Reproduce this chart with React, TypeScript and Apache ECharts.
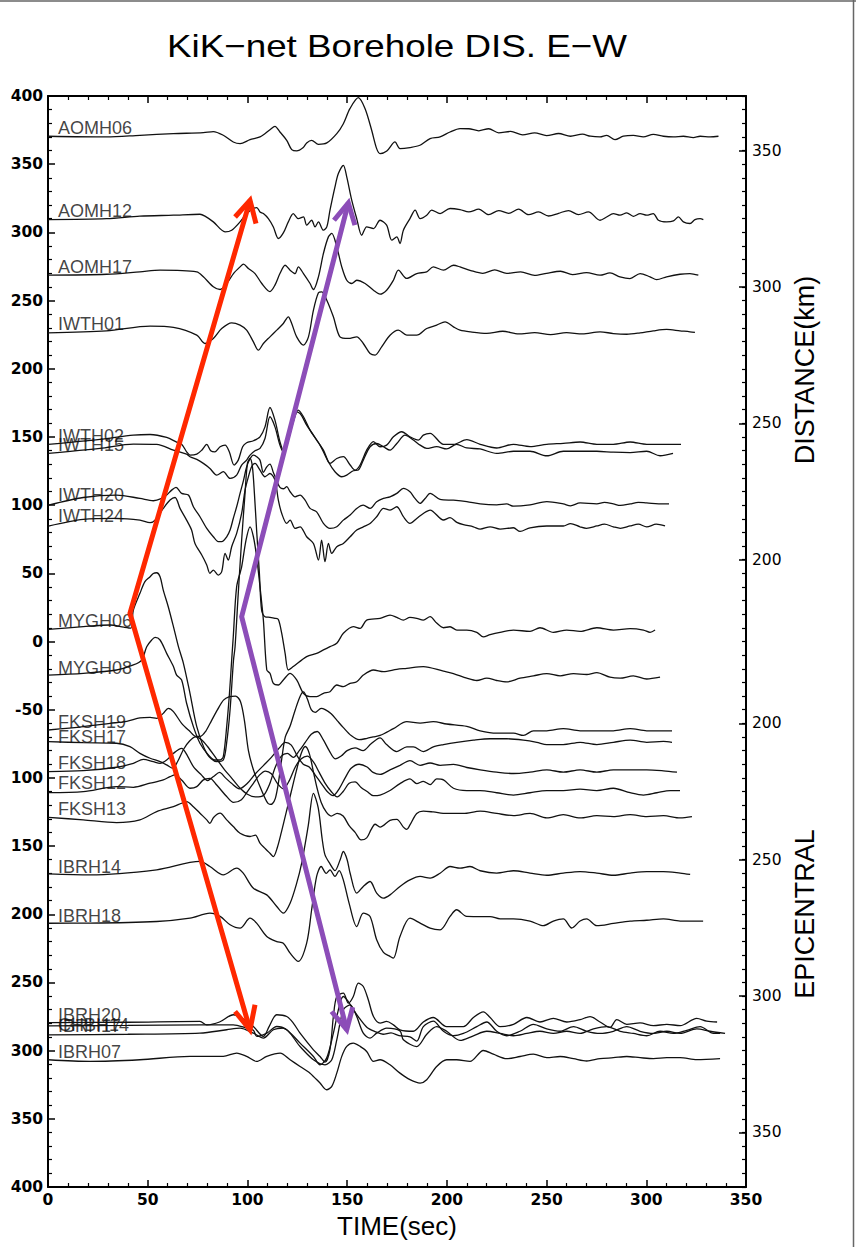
import React, { useEffect, useRef } from "react";
import * as echarts from "echarts";

// ---------- station labels ----------
const STATIONS = ["AOMH06","AOMH12","AOMH17","IWTH01","IWTH02","IWTH15","IWTH20","IWTH24","MYGH06","MYGH08","FKSH19","FKSH17","FKSH18","FKSH12","FKSH13","IBRH14","IBRH18","IBRH20","CHBH14","IBRH17","IBRH07"];
const LABEL_V = [376.3,315.5,274.5,232.8,150.6,144.0,107.3,91.9,14.9,-19.4,-59.0,-70.0,-89.3,-103.5,-123.0,-165.3,-201.0,-273.8,-281.1,-281.9,-300.9];
const LABEL_T = 5;

// ---------- traces: [time (s), offset value] ----------
const AOMH06 = [[0,370.5],[29.4,370],[46.1,371.2],[62.9,372.4],[77.9,373.1],[82.9,373.9],[87.9,371.2],[92.9,366.3],[96.3,365.1],[101.3,368],[106.3,370],[111.3,375.3],[113.8,377.8],[116.3,373.6],[119.7,367.5],[122.2,360.7],[124.7,359.7],[128,362.2],[129.7,365.6],[132.2,367.5],[135.6,364.6],[139.8,365.6],[144.8,372.4],[148.1,379.7],[151.4,390.7],[155.6,398.8],[159,390.7],[162.3,374.9],[164.8,361.4],[166.5,357.8],[169.9,359.7],[174,366.3],[176.5,361.4],[181.5,362.2],[186.5,363.9],[191.6,368.8],[196.6,370],[201.6,373.6],[206.6,376.1],[211,376],[216,374.5],[221,376],[226,373],[232,374],[238,371.5],[244,373],[250,371],[256,372.5],[262,370.5],[268,372],[272,370.5],[276.8,370],[280.1,371.2],[284.3,368],[288.5,370.5],[293.5,371.2],[298.5,370],[303.5,371.9],[308.6,370.5],[313.6,370],[318.6,370.5],[323.6,369.5],[327,370.5],[332,370],[336.2,370.5]];
const AOMH12 = [[0,309.4],[29.4,310.1],[46.1,311.9],[62.9,312.6],[76.2,313.3],[78.7,311.9],[82.9,307.7],[88.8,300.4],[92.1,301.6],[96.3,307.7],[99.6,313.8],[103,317.5],[104.7,318.2],[106.3,315],[108,313.8],[110.5,310.1],[113,304],[115.5,295.5],[118,299.6],[120.5,307.7],[123,313.8],[125.5,310.1],[128.1,311.4],[129.7,305.3],[132.2,308.9],[133.9,304],[135.6,307.7],[138.1,301.6],[139.8,304],[141.4,316.3],[143.9,333.4],[145.6,343.1],[148.1,349.2],[149.8,340.7],[152.3,323.6],[154.8,310.1],[157.3,297.9],[159.8,304],[163.2,302.8],[166.5,308.9],[169.8,305.3],[172.4,294.3],[174.9,296.7],[176.5,291.8],[178.2,301.6],[181.5,310.1],[184.1,316.3],[186.6,310.1],[189.9,312.6],[192.4,316.3],[196.6,313.8],[201.6,317.5],[206.6,316.7],[211,315],[216,317],[221,313],[226,316],[231,314],[236,317],[241,313],[246,315],[251,312],[256,314],[261,316],[266,313],[271,315],[276.8,308.9],[280.1,311.3],[283.5,313.8],[286.8,312.6],[290.2,314.3],[293.5,311.8],[296.9,313.8],[300.2,312.6],[303.5,313.8],[306.1,308.9],[310.2,307.7],[313.6,308.4],[316.1,311.3],[318.6,307.7],[321.9,306.5],[324.4,309.4],[327,310.1],[328.6,309.4]];
const AOMH17 = [[0,268.6],[29.4,269.3],[46.1,271.1],[56.2,272.3],[74.6,271.1],[77.9,267.4],[82.9,260.1],[86.3,258.1],[89.6,262.5],[93,269.8],[96.3,274.7],[98,276.7],[100.5,273.5],[103.8,269.8],[107.2,262.5],[111.3,256.6],[113.8,261.3],[116.3,269.8],[118.9,275.9],[121.4,272.3],[123.9,269.8],[125.5,274.7],[128.1,269.8],[131.4,262.5],[133.1,258.1],[135.6,267.4],[138.1,284.5],[140.6,296.7],[142.3,299.2],[144.8,289.4],[147.3,274.7],[149.8,264.9],[152.3,262.5],[154.8,264.9],[159,262.5],[163.2,257.6],[166.5,254.7],[169.8,257.6],[173.2,264.9],[175.7,272.3],[179.9,266.2],[184.9,269.8],[189.9,271.1],[193.2,274.7],[198.3,272.3],[203.3,275.9],[206.6,274.7],[212,272],[218,270],[224,272.5],[230,270],[237,271],[244,268.5],[250,270],[257,271.5],[263,269],[270,270.5],[276.8,268.6],[281.8,270.3],[286.8,267.4],[291.8,266.1],[296.9,269.8],[301.9,267.4],[305.2,265.4],[310.2,267.4],[316.9,269.3],[321.9,269.8],[326.1,268.6]];
const IWTH01 = [[0,226.3],[29.4,227.8],[51.2,231.2],[62.9,230.3],[74.6,224.6],[78.7,218.5],[82.9,222.2],[87.1,229.5],[92.1,233.7],[96.3,232],[99.6,228.3],[103,219.7],[105.5,213.6],[108,218.5],[111.3,223.4],[114.7,228.3],[118,233.2],[120.5,238.1],[122.2,233.2],[124.7,223.4],[128.1,217.3],[130.6,223.4],[133.1,243],[135.6,255.7],[137.3,256.4],[139.8,250.3],[143.1,238.1],[146.4,223.4],[150.6,222.2],[154.8,223.4],[158.1,218.5],[161.5,211.2],[164,210],[167.3,216.1],[171.5,224.6],[175.7,228.3],[179.9,224.6],[184.9,224.6],[189.9,229.5],[194.9,232],[199.1,234.4],[203.3,230.7],[206.6,228.3],[212,227],[220,226],[228,227.5],[236,225.5],[244,226.5],[252,225],[260,226.5],[268,225.5],[276.8,227.1],[283.5,225.8],[290.2,225.3],[296.9,226.3],[303.5,227.8],[310.2,228.8],[316.9,227.8],[321.9,227.1],[324.4,226.6]];
const IWTH02 = [[0.2,144.5],[26.1,148.2],[42.8,151.3],[51.2,151.8],[59.5,149.6],[64.5,146.2],[67,144.7],[69.5,139.1],[71.2,136.7],[74.6,137.4],[77.1,140.3],[79.6,144.5],[81.6,139.9],[83.7,139.1],[86.3,142.8],[88.8,144],[90.9,139.1],[93.3,129.4],[95.4,133],[97.6,142.8],[99.6,145.7],[103,147.2],[106.3,150.1],[108.8,157.4],[111.3,171.6],[113.8,162.3],[116.3,146.5],[118,140.3],[119.7,145.2],[122.2,159.9],[123.9,168.4],[126.4,167.2],[129.7,158.7],[133.1,151.3],[136.4,144],[138.9,136.7],[141.4,130.6],[144.8,134.2],[148.1,135.5],[151.5,129.4],[154,125.7],[156.5,129.4],[159.8,140.3],[163.2,146.5],[166.5,142.8],[169.8,144],[173.2,150.1],[177.4,153.8],[181.5,150.1],[185.7,147.7],[188.2,151.3],[191.6,152.6],[198.3,144.6],[203.3,144.6],[210,148],[216.7,144.6],[225,141.9],[233.4,144.6],[241.7,142.9],[250.1,144.6],[258.4,145.3],[266.8,146.3],[275.2,144.6],[283.5,144.6],[291.9,146.3],[300.2,144.6],[308.6,144.6],[317.4,144.6]];
const IWTH15 = [[0.2,137.9],[26.1,141.6],[42.8,144.7],[54.5,144.5],[62.9,140.3],[69.5,137.4],[71.2,135.5],[74.6,133.5],[77.9,130.6],[81.2,126.9],[84.6,122],[87.9,124.5],[91.3,119.6],[94.6,122],[97.1,129.4],[99.6,133],[101.3,136.7],[103.8,139.9],[106.3,141.6],[108.8,148.9],[111.3,164.8],[113.8,157.4],[116.3,144],[118,139.1],[120.5,147.7],[123,161.1],[125.5,169.7],[128.1,164.8],[131.4,155],[134.7,147.7],[138.1,140.3],[140.6,131.8],[143.9,124.5],[147.3,120.8],[149.8,122],[153.1,125.2],[155.6,125.7],[158.1,133],[161.5,142.8],[164.8,145.2],[168.2,142.8],[171.5,140.3],[174.9,145.2],[179,151.3],[183.2,147.7],[186.6,144],[189.9,141.6],[194.9,142.9],[199.9,141.2],[204.9,144.6],[210,141.9],[216.7,141.2],[225,137.9],[233.4,139.5],[241.7,139.5],[250.1,136.2],[258.4,139.5],[266.8,139.5],[275.2,139.5],[283.5,138.8],[291.9,138.5],[300.2,139.5],[306.9,136.2],[313.4,137.9]];
const IWTH20 = [[0.2,100],[17.7,105.6],[34.4,107.4],[46.1,104.9],[52.8,103.2],[57,104.9],[59.5,107.4],[62,111],[64.2,113],[67,108.6],[70.4,107.4],[72.9,98.8],[76.2,91.5],[79.6,82.9],[82.9,76.8],[85.4,73.2],[87.1,73.2],[89.6,76.8],[91.3,81.7],[92.9,90.2],[94.6,98.8],[96.3,108.6],[98,118],[99.6,128],[101.3,134],[103,136.7],[104.6,135.5],[106.3,133],[108,124],[109.7,128],[111.3,130],[113,124],[114.7,118],[116.3,113],[118,112],[119.7,113.5],[121.4,109.8],[123.9,106.1],[126.4,107.4],[128.9,103.7],[131.4,97.6],[134.7,95.1],[138.1,86.6],[141.4,82.9],[144.8,84.1],[148.1,89],[151.5,92.7],[154.8,97.6],[158.1,100],[161.5,97.6],[164.8,102.5],[168.2,104.9],[171.5,106.1],[174.9,108.6],[178.2,112.3],[181.5,109.8],[184,104.9],[186.6,101.3],[189.1,104.9],[191.6,108.6],[196.6,104.2],[203.3,103.6],[210,102.6],[216.7,100.9],[225,100.2],[230,100.9],[233.4,99.2],[241.7,100.2],[250.1,102.6],[258.4,100.9],[262,99.5],[266.8,101.6],[275.2,100.9],[279,102],[283.5,100.9],[287,99.8],[291.9,100.9],[296,102],[300.2,101.6],[308.6,100.9],[311.4,100.9]];
const IWTH24 = [[0.2,84.6],[17.7,89.5],[34.4,90.3],[46.1,89],[51.2,87.1],[53.7,89],[57.8,97.6],[61.2,103.7],[63.7,105.6],[66.2,97.6],[69.5,89],[72,81.7],[73.7,71.9],[77.1,63.4],[79.6,56.1],[81.2,50],[82.9,52.4],[85.4,48.7],[87.1,51.2],[88.8,64.6],[90.4,59.7],[92.1,69.5],[94.6,79.3],[97.1,93.9],[98.8,111],[100.5,120.8],[102.1,128.1],[103.8,130.6],[106.3,125.7],[108.8,120.8],[111.3,123.2],[113.8,118.4],[115.5,103.7],[117.2,93.9],[119.7,86.6],[121.4,89],[123.9,82.9],[126.4,84.1],[129.7,76.8],[133.1,71.9],[135.6,59.7],[137.2,74.4],[138.9,58.5],[140.6,71.9],[142.3,64.6],[144.8,69.5],[148.1,71.9],[151.5,76.8],[154.8,81.7],[158.1,84.1],[161.5,86.6],[164.8,91.5],[168.2,97.6],[171.5,96.4],[174.9,98.8],[178.2,91.5],[181.5,86.6],[184.9,90.2],[188.2,93.9],[191.6,96.4],[198.3,89.1],[201.6,90.8],[205,87.4],[208.3,85.7],[213.3,84.1],[216.7,82.4],[221.7,84.1],[226.7,82.4],[233.4,83.4],[236.7,80.7],[241.7,83.4],[250.1,84.7],[258.4,84.7],[262,86.5],[266.8,84.1],[270,83],[275.2,84.7],[279,86],[283.5,84.1],[287,83],[291.9,84.7],[296,86],[300.2,84.1],[305,86],[309.4,84.7]];
const MYGH06 = [[0.2,8.9],[17.7,10.9],[31.1,12.1],[38,10.5],[41.5,9.8],[42.8,23.1],[46.1,35.3],[48.6,43.9],[51.2,47.5],[52.8,49.9],[54.5,50.4],[56.2,47.5],[57.8,37.7],[60.3,25.5],[62.9,10.9],[65.4,-3.8],[67.9,-16],[71.2,-38],[74.6,-62.4],[79.6,-82],[84.6,-88.1],[87.9,-86.9],[89.6,-74],[91.3,-50],[93,-14],[93.8,-3.8],[95.4,35.3],[97.1,74.4],[98.8,108.6],[100,130.6],[101.3,134.2],[102.5,128.1],[103.5,108.6],[104.6,81.7],[106,50],[107.1,23.1],[108.8,18.2],[111.3,17.7],[113.8,17],[115.5,16.2],[117.2,6],[118.9,-8.7],[120.5,-20.9],[123,-18.4],[129.7,-11.1],[134.7,-8.7],[138.1,-6.2],[141.4,-3.8],[144.8,-1.3],[148.1,6],[153.1,10.9],[156.5,9.6],[159.8,15.7],[166.5,17],[171.5,19.4],[174.9,17.7],[178.2,15.7],[181.5,17.7],[184.9,17],[188.2,15.7],[191.6,18.2],[194.9,13.5],[198.3,10.1],[201.6,10.8],[205,8.4],[210,8.4],[215,6.7],[218.3,3.4],[221.7,5],[226.7,6.7],[233.4,8.4],[241.7,7.4],[246.7,10.1],[253.4,6.7],[260.1,8.4],[266.8,7.4],[275.2,10.1],[283.5,8.4],[291.9,9.4],[298.6,8.4],[301.9,6.7],[304.4,8.4]];
const MYGH08 = [[0.2,-24.6],[17.7,-23.3],[34.4,-20.9],[42.8,-17.2],[47,-13.6],[49.5,-3.8],[52,1.1],[53.7,3],[56.2,1.1],[59.5,-8.7],[62.9,-18.4],[64.5,-24.6],[67,-28.2],[69.5,-45.3],[72.9,-62.4],[76.2,-74.6],[80.4,-83.2],[83.7,-86.9],[86.3,-86.9],[87.9,-84.4],[89.6,-62.4],[91,-38],[92.1,-13.6],[92.9,3.5],[94.6,40.2],[97.1,54.8],[99.3,74.4],[101.3,84.1],[103,76.8],[104.6,62.2],[106.3,40.2],[108,15.7],[109.7,-20.9],[111.3,-23.3],[113,-30.7],[115.5,-31.9],[118,-28.2],[121.4,-23.3],[124.7,-28.2],[128.1,-38],[131.4,-40.4],[134.7,-40.4],[138.1,-38],[141.4,-36.8],[144.8,-31.9],[148.1,-33.1],[151.5,-30.7],[154.8,-29.5],[158.1,-24.6],[163.2,-20.9],[168.2,-22.1],[174.9,-20.4],[179.9,-19.7],[188.2,-18.4],[198.3,-21.8],[203.3,-23.5],[210,-26.9],[215,-28.6],[220,-26.9],[225,-28.6],[230,-29.6],[236.7,-26.9],[243.4,-25.2],[250.1,-23.5],[256.8,-25.2],[263.5,-23.5],[270.1,-24.2],[275.2,-22.8],[281.8,-26.2],[286.9,-26.9],[293.5,-25.2],[300.2,-27.5],[306.9,-26.2]];
const FKSH19 = [[0.2,-64.9],[17.7,-62.4],[31.1,-60],[39.5,-58.5],[46.1,-56],[51.2,-55.6],[54.5,-56.3],[57.8,-52.7],[60.3,-49],[62.9,-51.4],[67,-60],[71.2,-66],[74,-69.5],[76.5,-69.5],[79,-66],[82,-58],[85,-50],[88,-43],[91,-40.5],[94,-40],[96.5,-44],[98.5,-58],[100.5,-80],[103,-94],[106.3,-106.4],[109.7,-117.4],[111.3,-119.5],[112.5,-119],[114,-115],[115.5,-104],[117.2,-86],[119,-70],[121.4,-62],[124,-50],[126.5,-40],[128.1,-37],[130,-42],[132,-50],[134,-52],[137,-49],[139,-50],[142,-53],[145,-58],[148,-63],[152,-69],[156,-72],[160,-71],[163,-70],[166.5,-68.9],[173.2,-63.9],[179.9,-58.8],[186.6,-59.8],[193.2,-58.8],[199.9,-60.5],[210,-62.2],[216.7,-65.5],[225,-67.2],[233.4,-67.2],[238.4,-68.9],[243.4,-65.5],[250.1,-65.5],[258.4,-63.9],[266.8,-65.5],[275.2,-65.5],[283.5,-65.5],[291.9,-63.9],[300.2,-65.5],[308.6,-65.5],[312.9,-65.5]];
const FKSH17 = [[0.2,-73.4],[17.7,-74.2],[34.4,-74.6],[41.1,-77.1],[46.1,-82],[51.2,-85.6],[56.2,-88.1],[59.5,-90.5],[62.5,-93],[65,-88],[68,-79],[71,-73],[74,-70],[77,-72],[80,-77],[84,-85],[88,-93],[92,-100],[96,-107],[100,-112],[104,-114],[108,-113],[111,-105],[114,-92],[117,-84],[120,-82],[123,-85],[126,-80],[129,-74],[132,-68],[135,-66],[138,-72],[141,-80],[144,-86],[147,-84],[150,-80],[154,-78],[158,-80],[162,-75],[166.5,-70.6],[169.8,-75.6],[174.9,-80.7],[179.9,-77.3],[183.2,-77.3],[188.2,-80.7],[193.2,-77.3],[198.3,-75.6],[205,-73.9],[213.3,-72.3],[221.7,-71.3],[230,-71.3],[238.4,-72.3],[245.1,-73.9],[250.1,-75.6],[258.4,-75.6],[266.8,-73.9],[275.2,-75.6],[283.5,-73.9],[291.9,-72.3],[300.2,-73.9],[308.6,-73.3],[312.9,-73.9]];
const FKSH18 = [[0.2,-95.4],[17.7,-94.7],[34.4,-92.2],[42.8,-89.3],[47.8,-86.4],[52.8,-88.1],[56.2,-89.3],[59.5,-86.9],[62.9,-82],[67,-78.3],[70,-84],[73,-92],[77,-98],[80,-102],[83,-99],[86,-96],[89,-100],[92,-104],[96,-108],[100,-104],[104,-97],[108,-91],[112,-85],[116,-78],[119,-74],[122,-76],[125,-84],[128,-90],[131,-92],[134,-98],[137,-104],[140,-110],[143,-113],[146,-108],[149,-100],[152,-93],[156,-90],[160,-92],[163,-96],[166.5,-97.5],[171.5,-94.1],[176.5,-90.8],[181.5,-87.4],[186.6,-90.8],[191.6,-89.1],[196.6,-90.8],[203.3,-90.1],[210,-92.4],[216.7,-94.1],[225,-95.8],[233.4,-96.8],[241.7,-95.8],[250.1,-94.1],[258.4,-95.8],[266.8,-94.1],[275.2,-95.8],[283.5,-94.1],[291.9,-94.1],[300.2,-94.1],[308.6,-94.8],[315.4,-95.8]];
const FKSH12 = [[0.2,-110.8],[17.7,-110.1],[34.4,-106.4],[42.8,-106.9],[51.2,-103.9],[57.8,-101.5],[61.2,-99.1],[63.7,-97.8],[67,-101.5],[71.2,-107.6],[74.6,-106.4],[77.9,-101.5],[81.2,-100.3],[84.6,-105.2],[89.6,-113.7],[93,-118],[97,-116],[100,-110],[103,-104],[106,-98],[109,-95],[112,-97],[115,-104],[118,-108],[121,-102],[124,-92],[127,-86],[130,-84],[133,-88],[136,-96],[139,-104],[142,-110],[145,-114],[148,-110],[151,-104],[154,-103],[157,-107],[160,-110],[163,-113],[166.5,-112.6],[171.5,-109.3],[176.5,-104.2],[181.5,-100.8],[184.9,-104.2],[188.2,-102.5],[191.6,-104.9],[194.9,-100.8],[198.3,-101.5],[203.3,-107.6],[210,-109.3],[216.7,-109.3],[225,-110.9],[233.4,-112.6],[241.7,-110.9],[250.1,-109.3],[258.4,-109.3],[266.8,-108.2],[275.2,-109.3],[283.5,-107.6],[291.9,-110.9],[298.6,-112.6],[305.3,-110.9],[312,-109.3],[316.9,-109.3]];
const FKSH13 = [[0.2,-128.9],[17.7,-130.8],[34.4,-132.8],[46.1,-130.8],[54.5,-124.7],[62.9,-121.1],[67,-118.6],[69.5,-117.4],[72.9,-121.1],[76.2,-125.9],[79.6,-130.8],[81.2,-133.3],[83,-129],[86.3,-125.9],[89.6,-130.8],[92.9,-135.7],[96.3,-140.6],[101.3,-143],[104,-142],[106.3,-147.9],[109,-152],[111.3,-155.3],[113,-157.7],[115,-151],[117,-140],[119.5,-125],[122,-110],[124.5,-95],[127,-82],[129,-77],[131,-82],[133,-95],[135,-108],[137,-118],[139.5,-125],[142,-128],[145,-126],[148,-128],[151,-135],[154,-140],[157,-145.5],[159.8,-144],[162,-138],[164,-134],[166.5,-136.1],[171.5,-131.1],[174.9,-130.4],[178.2,-136.1],[179.9,-137.8],[181.5,-134.5],[184.9,-126.1],[188.2,-124.4],[193.2,-125],[199.9,-126.1],[208.3,-126.1],[216.7,-124.4],[225,-126.1],[233.4,-127.7],[241.7,-126.1],[250.1,-129.4],[258.4,-127],[266.8,-129.4],[275.2,-127.7],[283.5,-128.4],[291.9,-127],[300.2,-128.4],[308.6,-127.7],[317,-129.4],[322.9,-128.4]];
const IBRH14 = [[0.2,-170.4],[21.1,-171.1],[54.5,-167.4],[76.2,-161.3],[81.2,-165],[87.9,-171.1],[94.6,-166.2],[97.9,-169.9],[103,-180.9],[109.7,-185.8],[114.7,-194.3],[118,-199.2],[121.4,-191.9],[124.7,-177.2],[127.2,-162.5],[130.5,-135],[133.1,-111.3],[135.5,-122],[137.5,-145],[138.9,-156.5],[141.4,-163],[143.9,-168],[146.5,-160],[148.1,-154],[150,-160],[151.5,-169.9],[154.8,-184.5],[158.1,-179.6],[161.5,-176],[164.8,-184.5],[168.2,-188.2],[171.5,-185.8],[176.5,-179.6],[181.5,-174.8],[186.6,-172.3],[191.6,-173.5],[196.6,-169.9],[201.6,-165],[206.6,-166.2],[211.6,-165],[216.7,-168.1],[225,-169.8],[233.4,-168.1],[241.7,-169.8],[250.1,-171.4],[258.4,-169.8],[266.8,-168.7],[275.2,-169.8],[283.5,-171.4],[291.9,-169.8],[300.2,-168.7],[308.6,-168.7],[317,-169.8],[322,-170.8]];
const IBRH18 = [[0.2,-206.6],[21.1,-206.5],[54.5,-205.3],[71.2,-202.9],[81.2,-199.2],[86.3,-201.6],[91.3,-207.7],[96.3,-210.2],[101.3,-202.9],[104.6,-206.5],[109.7,-216.3],[114.7,-220],[118,-221.2],[121.4,-228.5],[125.5,-234.6],[129.7,-221.2],[132.2,-196.7],[134.7,-172.3],[137,-165],[139.5,-170],[141.4,-167.4],[143.9,-172.3],[146,-168],[148.1,-175],[151,-192],[154.8,-209],[158.1,-199.2],[161.5,-201.6],[164.8,-218.7],[168.2,-228],[171.5,-230.9],[173.2,-232.2],[176.5,-216.3],[181.5,-202.9],[186.6,-206.5],[191.6,-210.2],[196.6,-211.4],[201.6,-201.6],[204.9,-196.7],[209.9,-201.6],[215,-201.7],[221.7,-201.7],[226.7,-203.4],[233.4,-203.4],[241.7,-205],[248.4,-208.4],[253.4,-205],[258.4,-203.4],[262.6,-210.1],[266.8,-205],[270.1,-203.4],[275.2,-208.4],[283.5,-206.7],[291.9,-205],[300.2,-204.4],[308.6,-203.4],[317,-205],[328.5,-205]];
const IBRH20 = [[0.2,-279.4],[40,-279.2],[76.2,-278.6],[79.6,-281.1],[86,-279],[92.9,-273.7],[96.3,-275],[100,-279],[103,-282.3],[108,-289.6],[111,-282],[114.7,-273.7],[119.7,-275],[123,-279.8],[126.4,-287.2],[133.1,-299.4],[136.4,-304.3],[138.9,-308.5],[141.4,-299],[143.1,-275],[144.8,-260.3],[148.1,-257.9],[150.6,-265.2],[153.1,-260.3],[155.6,-250.5],[158.1,-253],[160.6,-262.7],[163.2,-275],[166.5,-279.8],[169.8,-278.6],[173.2,-281.1],[176.5,-284.7],[183.2,-285.8],[188.2,-279],[193.2,-275.7],[199.9,-282.4],[208.3,-282.4],[213.3,-275.7],[218.3,-271.6],[221.7,-275.7],[226.7,-282.4],[233.4,-280.7],[240.1,-275.7],[246.7,-279],[253.4,-276.3],[260.1,-279],[266.8,-277.3],[271.8,-275],[276.8,-279],[281.8,-283],[285.2,-277.3],[290.2,-280.7],[296.9,-279.7],[303.6,-281.7],[310.3,-280.7],[317,-281.7],[325.3,-276.3],[330.3,-278.4],[335.5,-279]];
const CHBH14 = [[0.2,-281.8],[40,-281.5],[76.2,-281.1],[92.9,-281.1],[99.6,-283.5],[103,-285],[104.7,-289.6],[109.7,-287.2],[114.7,-282.3],[119.7,-284.7],[126.4,-294.5],[133.1,-304.3],[136.4,-310.4],[139.7,-305.5],[143.1,-287.2],[146.4,-265.2],[148.1,-260.3],[150.6,-264],[153.1,-270],[156,-276],[160,-283],[164,-286],[168,-288],[172,-287],[176,-289],[181.5,-290],[184.9,-293],[188.2,-282.4],[193.2,-278.4],[198.3,-285.8],[203.3,-289.1],[208.3,-287.4],[215,-282.4],[220,-279],[225,-285.8],[230,-289.1],[236.7,-285.8],[243.4,-280.7],[250.1,-284.1],[256.8,-285.8],[263.5,-282.4],[270.1,-285.8],[276.8,-287.4],[283.5,-285.8],[290.2,-282.4],[296.9,-285.8],[303.6,-287.4],[310.3,-285.8],[317,-287.4],[325.3,-284.1],[332,-285.8],[339.5,-287.4]];
const IBRH17 = [[0.2,-288.4],[40,-288],[76.2,-287.2],[89.6,-284.7],[96.3,-283.5],[103,-287.2],[108,-290.8],[113,-284.7],[118,-283.5],[126.4,-297],[133.1,-306.7],[138.9,-310.4],[142.3,-306.7],[144.8,-292.1],[148.1,-270.1],[151.5,-266.4],[154.8,-275],[158.1,-287.2],[161.5,-290.8],[164.8,-287.2],[169.8,-283.5],[176.5,-285.5],[178.2,-292],[184.9,-297],[189.9,-288],[194.9,-282.4],[199.9,-285.8],[206.6,-292.5],[213.3,-289.1],[220,-285.8],[226.7,-287.4],[233.4,-289.1],[240.1,-287.4],[246.7,-285.8],[253.4,-287.4],[260.1,-285.8],[266.8,-287.4],[273.5,-284.1],[280.2,-282.4],[286.9,-285.8],[293.5,-287.4],[300.2,-289.1],[306.9,-285.8],[313.6,-287.4],[320.3,-285.1],[327,-282.4],[333.7,-287.4],[337,-287.4]];
const IBRH07 = [[0.2,-306.7],[21.1,-307.9],[46.1,-306.7],[71.2,-304.2],[87.9,-304.2],[94.6,-301.8],[99.6,-304.2],[104.6,-307.9],[109.7,-304.2],[116.4,-301.8],[121.4,-306.7],[126.4,-311.6],[131.4,-316.5],[136.4,-323.8],[139.7,-328.7],[142.3,-326.2],[144.8,-316.5],[147.3,-304.2],[149.8,-296.9],[153.1,-294.5],[156.5,-296.9],[159.8,-300.6],[163.2,-307.9],[166.5,-306.7],[171.5,-310.4],[176.5,-316.5],[181.5,-321.3],[186.6,-323.8],[189.9,-321.3],[194.9,-311.6],[199.9,-306.7],[204.9,-306.7],[211.6,-307.9],[218.3,-299.9],[223.3,-302.6],[230,-305.9],[236.7,-304.3],[243.4,-302.6],[250.1,-305.2],[256.8,-304.3],[263.5,-305.9],[270.1,-307.6],[276.8,-305.9],[283.5,-305.2],[290.2,-304.3],[296.9,-305.2],[303.6,-305.9],[310.3,-305.2],[317,-305.2],[325.3,-306.6],[337,-305.9]];

const TRACES = [AOMH06,AOMH12,AOMH17,IWTH01,IWTH02,IWTH15,IWTH20,IWTH24,MYGH06,MYGH08,FKSH19,FKSH17,FKSH18,FKSH12,FKSH13,IBRH14,IBRH18,IBRH20,CHBH14,IBRH17,IBRH07];

// ---------- arrows (time, value) ----------
const RED_ARROW = [[101.3,323.5],[41.1,20.7],[101.3,-284.7]];
const RED_HEAD_TOP = [[93.8,311.3],[101.3,323.5],[104.3,306.5]];
const RED_HEAD_BOTTOM = [[93.8,-271.3],[101.3,-284.7],[103.8,-266.4]];
const PURPLE_ARROW = [[150.6,321.6],[97.1,18.2],[149.8,-284.7]];
const PURPLE_HEAD_TOP = [[143.4,308.9],[150.6,321.6],[153.9,305.3]];
const PURPLE_HEAD_BOTTOM = [[142.2,-271.3],[149.8,-284.7],[152.8,-268.1]];

// ---------- right axis ----------
const RIGHT_LABEL_VALUES = [-360,-260,-160,-60,60,160,260,360];
const FOLD_DISTANCE = 170;

export default function App() {
  const ref = useRef<HTMLDivElement>(null);
  useEffect(() => {
    const chart = echarts.init(ref.current!, null, { renderer: "svg" });
    const black = "#000";
    const tickFont = { fontFamily: "DejaVu Sans", fontWeight: "bold", fontSize: 15.5, color: black };
    const series: any[] = TRACES.map((d, i) => ({
      type: "line",
      name: STATIONS[i],
      data: d,
      symbol: "none",
      smooth: 0.3,
      clip: false,
      silent: true,
      lineStyle: { color: "#111", width: 1.3 },
      z: 2,
    }));
    series.push({
      type: "scatter",
      data: STATIONS.map((n, i) => ({ name: n, value: [LABEL_T, LABEL_V[i]] })),
      symbolSize: 0,
      silent: true,
      z: 3,
      label: {
        show: true,
        position: "right",
        distance: 0,
        formatter: "{b}",
        fontFamily: "Liberation Sans",
        fontSize: 18,
        color: "#111",
      },
    });
    const arrow = (data: number[][], color: string) => ({
      type: "line",
      data,
      symbol: "none",
      silent: true,
      clip: false,
      z: 5,
      lineStyle: { color, width: 5, join: "miter", cap: "butt" },
    });
    const red = "#ff2800";
    const purple = "#8c4db8";
    series.push(arrow(RED_ARROW, red), arrow(RED_HEAD_TOP, red), arrow(RED_HEAD_BOTTOM, red));
    series.push(arrow(PURPLE_ARROW, purple), arrow(PURPLE_HEAD_TOP, purple), arrow(PURPLE_HEAD_BOTTOM, purple));

    const xCommon = {
      type: "value",
      min: 0,
      max: 350,
      interval: 50,
      axisLine: { show: true, onZero: false, lineStyle: { color: black, width: 2 } },
      axisTick: { show: true, inside: true, length: 7, lineStyle: { color: black, width: 1.5 } },
      minorTick: { show: true, splitNumber: 5, length: 4, lineStyle: { color: black, width: 1.2 } },
      splitLine: { show: false },
      minorSplitLine: { show: false },
    };

    chart.setOption({
      animation: false,
      backgroundColor: "#fff",
      grid: { left: 48, top: 96, right: 110, bottom: 60, containLabel: false, outerBoundsMode: "none" },
      xAxis: [
        {
          ...xCommon,
          position: "bottom",
          axisLabel: { ...tickFont, margin: 5 },
          name: "TIME(sec)",
          nameLocation: "middle",
          nameGap: 26,
          nameTextStyle: { fontFamily: "Liberation Sans", fontSize: 26, color: black },
        },
        { ...xCommon, position: "top", axisLabel: { show: false } },
      ],
      yAxis: [
        {
          type: "value",
          position: "left",
          min: -400,
          max: 400,
          interval: 50,
          axisLine: { show: true, onZero: false, lineStyle: { color: black, width: 2 } },
          axisTick: { show: true, inside: true, length: 7, lineStyle: { color: black, width: 1.5 } },
          minorTick: { show: true, splitNumber: 5, length: 4, lineStyle: { color: black, width: 1.2 } },
          splitLine: { show: false },
          axisLabel: {
            ...tickFont,
            margin: 5,
            formatter: (v: number) => (v < -50 ? String(-v) : String(v)),
          },
        },
        {
          type: "value",
          position: "right",
          offset: 0,
          min: -400,
          max: 400,
          interval: 10,
          axisLine: { show: true, onZero: false, lineStyle: { color: black, width: 2 } },
          axisTick: { show: true, inside: true, length: 4, lineStyle: { color: black, width: 1.2 } },
          axisLabel: { show: false },
          splitLine: { show: false },
        },
        {
          type: "value",
          position: "right",
          offset: 0,
          min: -400,
          max: 400,
          axisLine: { show: false, onZero: false },
          axisTick: { show: true, inside: true, length: 7, customValues: RIGHT_LABEL_VALUES, lineStyle: { color: black, width: 1.5 } },
          axisLabel: {
            show: true,
            customValues: RIGHT_LABEL_VALUES,
            margin: 6,
            fontFamily: "DejaVu Sans",
            fontSize: 15.5,
            color: black,
            formatter: (v: number) => String(FOLD_DISTANCE + Math.abs(v) / 2),
          },
          splitLine: { show: false },
        },
      ],
      graphic: [
        {
          type: "text",
          x: 397,
          y: 46,
          scaleX: 1.15,
          style: {
            text: "KiK\u2212net Borehole DIS. E\u2212W",
            fontFamily: "Liberation Sans",
            fontSize: 32,
            fill: black,
            x: 0,
            y: 0,
            textAlign: "center",
            textVerticalAlign: "middle",
          },
        },
        {
          type: "text",
          x: 805,
          y: 370,
          rotation: Math.PI / 2,
          style: { text: "DISTANCE(km)", fontFamily: "Liberation Sans", fontSize: 27, fill: black, textAlign: "center", textVerticalAlign: "middle" },
        },
        {
          type: "text",
          x: 805,
          y: 914,
          rotation: Math.PI / 2,
          style: { text: "EPICENTRAL", fontFamily: "Liberation Sans", fontSize: 27, fill: black, textAlign: "center", textVerticalAlign: "middle" },
        },
        { type: "line", shape: { x1: 0, y1: 1, x2: 856, y2: 1 }, style: { stroke: "#666", lineWidth: 1.5 } },
        { type: "line", shape: { x1: 853.5, y1: 0, x2: 853.5, y2: 1247 }, style: { stroke: "#666", lineWidth: 1.5 } },
      ],
      series,
    });
    return () => chart.dispose();
  }, []);
  return <div ref={ref} style={{ position: "absolute", left: 0, top: 0, width: 856, height: 1247 }} />;
}
